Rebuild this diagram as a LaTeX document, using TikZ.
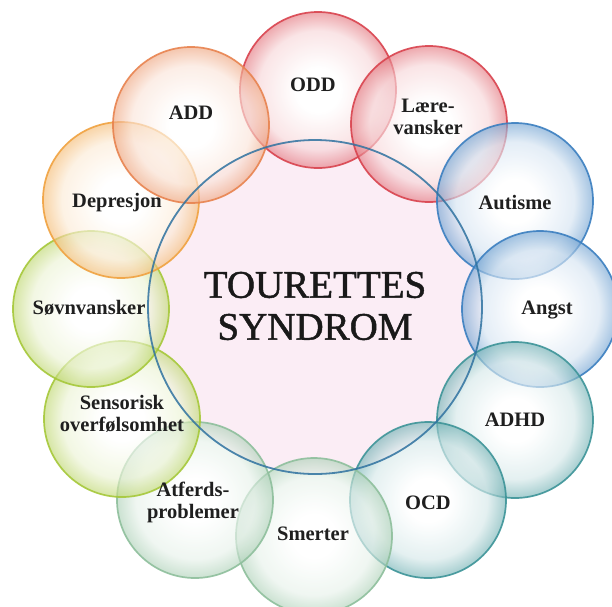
\documentclass[tikz,border=0pt]{standalone}
\usepackage{fontspec}
\setmainfont{Liberation Serif}
\newfontfamily\titlefont[FakeBold=1.2]{Liberation Serif}
\definecolor{cRed}{HTML}{D9434E}
\definecolor{cCoral}{HTML}{E8834F}
\definecolor{cOrange}{HTML}{F0A240}
\definecolor{cLime}{HTML}{A6C83A}
\definecolor{cSage}{HTML}{8EBF9C}
\definecolor{cTeal}{HTML}{3D9498}
\definecolor{cBlue}{HTML}{3B7FC0}
\definecolor{cRing}{HTML}{2F72A0}
\definecolor{cPink}{HTML}{FBEDF5}
\colorlet{bubtint}{red}
\colorlet{bubmid}{red}
\pgfdeclareradialshading[bubtint,bubmid]{bubble}{\pgfpoint{0bp}{0bp}}{color(0bp)=(white); color(7bp)=(white); color(19bp)=(bubmid); color(25bp)=(bubtint); color(50bp)=(bubtint)}
\tikzset{
  bub/.style={circle, minimum size=156pt, inner sep=0pt, draw=#1, line width=1.7pt,
    draw opacity=0.9, fill opacity=0.64,
    /utils/exec={\colorlet{bubtint}{#1!72!white}\colorlet{bubmid}{#1!22!white}}, shading=bubble},
  lab/.style={font=\bfseries\fontsize{20.5}{22}\selectfont, align=center, text=black!88},
  title/.style={font=\titlefont\fontsize{39}{44}\selectfont, text=black!90},
}
\begin{document}
\begin{tikzpicture}[x=1pt,y=-1pt]
\useasboundingbox (0,0) rectangle (612,606);
% central circle fill
\fill[cPink] (315,307) circle[radius=167];
% outer bubbles
\node[bub=cRed]    (odd)  at (318,90)  {};
\node[bub=cRed]    (lare) at (429,124) {};
\node[bub=cBlue]   (aut)  at (515,201) {};
\node[bub=cBlue]   (ang)  at (540,309) {};
\node[bub=cTeal]   (adhd) at (515,420) {};
\node[bub=cTeal]   (ocd)  at (428,500) {};
\node[bub=cSage]   (sme)  at (314,536) {};
\node[bub=cSage]   (atf)  at (195,500) {};
\node[bub=cLime]   (sen)  at (122,419) {};
\node[bub=cLime]   (sov)  at (91,309)  {};
\node[bub=cOrange] (dep)  at (121,200) {};
\node[bub=cCoral]  (add)  at (191,125) {};
% central ring
\node[circle, minimum size=334pt, inner sep=0pt, draw=cRing, line width=1.8pt, draw opacity=0.85] (ts) at (315,307) {};
% labels
\node[lab] (lodd)  at (313,85)  {ODD};
\node[lab] (llare) at (428,117) {Lære-\\vansker};
\node[lab] (laut)  at (515,203) {Autisme};
\node[lab] (lang)  at (547,310) {Angst};
\node[lab] (ladhd) at (515,420) {ADHD};
\node[lab] (locd)  at (428,503) {OCD};
\node[lab] (lsme)  at (313,534) {Smerter};
\node[lab] (latf)  at (193,502) {Atferds-\\problemer};
\node[lab] (lsen)  at (122,414) {Sensorisk\\overfølsomhet};
\node[lab] (lsov)  at (89,308)  {Søvnvansker};
\node[lab] (ldep)  at (117,203) {Depresjon};
\node[lab] (ladd)  at (191,113) {ADD};
\node[title] (t1) at (315,285) {TOURETTES};
\node[title] (t2) at (315,327) {SYNDROM};
\end{tikzpicture}
\end{document}
